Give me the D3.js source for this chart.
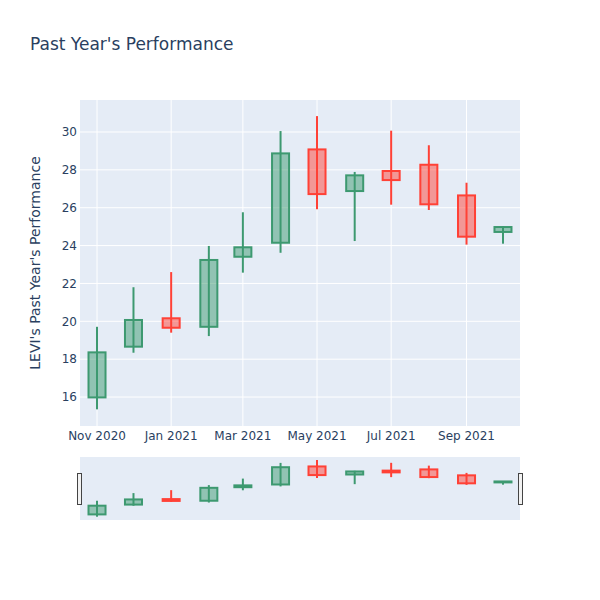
<!DOCTYPE html>
<html><head><meta charset="utf-8">
<script src="https://cdn.jsdelivr.net/npm/d3@7"></script>
<style>body{margin:0;background:#fff}svg{display:block;font-family:"DejaVu Sans",verdana,arial,sans-serif}</style>
</head><body><svg id="c" width="600" height="600"></svg>
<script>
const dates = ["2020-11-01","2020-12-01","2021-01-01","2021-02-01","2021-03-01","2021-04-01","2021-05-01","2021-06-01","2021-07-01","2021-08-01","2021-09-01","2021-10-01"];
const opens  = [15.98,18.66,20.16,19.71,23.41,24.15,29.08,26.88,27.94,28.27,26.65,24.72];
const highs  = [19.71,21.80,22.60,23.98,25.76,30.05,30.84,27.89,30.07,29.30,27.32,25.02];
const lows   = [15.35,18.34,19.40,19.22,22.57,23.62,25.92,24.24,26.16,25.88,24.05,24.10];
const closes = [18.36,20.07,19.66,23.24,23.91,28.87,26.72,27.71,27.46,26.18,24.47,24.98];
const yTicks = [16,18,20,22,24,26,28,30];
const xTickDates = ["2020-11-01","2021-01-01","2021-03-01","2021-05-01","2021-07-01","2021-09-01"];
const xTickLabels = ["Nov 2020","Jan 2021","Mar 2021","May 2021","Jul 2021","Sep 2021"];

const parse = d3.utcParse("%Y-%m-%d");
const data = dates.map((d,i)=>({date:parse(d),o:opens[i],h:highs[i],l:lows[i],c:closes[i]}));
const DAY = 864e5;
const halfW = 7*DAY;

const svg = d3.select("#c");
const L=80,R=520,T=100,B=426;
const x = d3.scaleUtc().domain([new Date(data[0].date-14*DAY), new Date(+data[data.length-1].date+14*DAY)]).range([L,R]);
const y = d3.scaleLinear().domain([14.47,31.69]).range([B,T]);
const ys = d3.scaleLinear().domain([14.45,31.66]).range([520,457]);

const INC="#3D9970", DEC="#FF4136";
const INCF="rgba(61,153,112,0.5)", DECF="rgba(255,65,54,0.5)";

svg.append("rect").attr("x",L).attr("y",T).attr("width",R-L).attr("height",B-T).attr("fill","#E5ECF6");
// grid
svg.append("g").selectAll("line").data(yTicks).join("line")
  .attr("x1",L).attr("x2",R).attr("y1",d=>y(d)).attr("y2",d=>y(d)).attr("stroke","#fff").attr("stroke-width",1);
svg.append("g").selectAll("line").data(xTickDates).join("line")
  .attr("x1",d=>x(parse(d))).attr("x2",d=>x(parse(d))).attr("y1",T).attr("y2",B).attr("stroke","#fff").attr("stroke-width",1);

function drawCandles(g, ys){
  const c = g.selectAll("g").data(data).join("g");
  c.append("line").attr("x1",d=>x(d.date)).attr("x2",d=>x(d.date))
    .attr("y1",d=>ys(d.h)).attr("y2",d=>ys(d.l))
    .attr("stroke",d=>d.c>=d.o?INC:DEC).attr("stroke-width",2);
  c.append("rect").attr("x",d=>x(new Date(d.date-halfW))).attr("width",d=>x(new Date(+d.date+halfW))-x(new Date(d.date-halfW)))
    .attr("y",d=>ys(Math.max(d.o,d.c))).attr("height",d=>Math.max(0.5,Math.abs(ys(d.o)-ys(d.c))))
    .attr("fill",d=>d.c>=d.o?INCF:DECF).attr("stroke",d=>d.c>=d.o?INC:DEC).attr("stroke-width",2);
}
drawCandles(svg.append("g"), y);

// y tick labels
svg.append("g").selectAll("text").data(yTicks).join("text")
  .attr("x",L-3).attr("y",d=>y(d)).attr("dy","0.35em").attr("text-anchor","end")
  .attr("font-size",12).attr("fill","#2a3f5f").text(d=>d);
// x tick labels
svg.append("g").selectAll("text").data(xTickDates).join("text")
  .attr("x",d=>x(parse(d))).attr("y",B+14).attr("text-anchor","middle")
  .attr("font-size",12).attr("fill","#2a3f5f").text((d,i)=>xTickLabels[i]);

// title
svg.append("text").attr("x",30).attr("y",50).attr("font-size",17).attr("fill","#2a3f5f").text("Past Year's Performance");
svg.append("text").attr("transform",`translate(40,${(T+B)/2}) rotate(-90)`).attr("text-anchor","middle")
  .attr("font-size",14).attr("fill","#2a3f5f").text("LEVI's Past Year's Performance");

// range slider
svg.append("rect").attr("x",L).attr("y",457).attr("width",R-L).attr("height",63).attr("fill","#E5ECF6");
drawCandles(svg.append("g"), ys);
[[77.5],[518.5]].forEach(([hx])=>{
  svg.append("rect").attr("x",hx).attr("y",473.5).attr("width",4).attr("height",31)
    .attr("fill","#f2f2f2").attr("stroke","#444").attr("stroke-width",1);
});
</script></body></html>
